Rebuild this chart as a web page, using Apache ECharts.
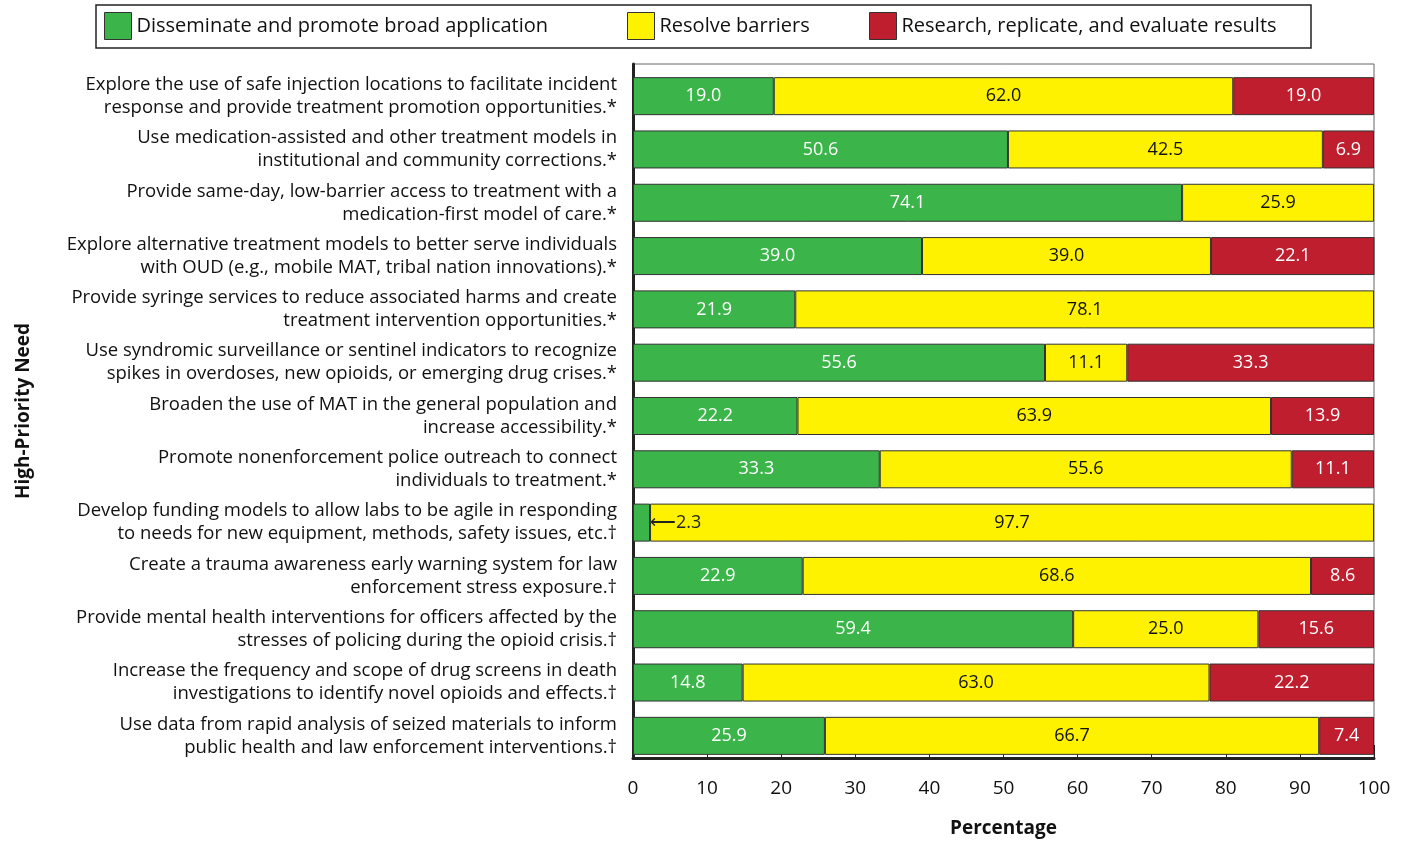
<!DOCTYPE html>
<html>
<head>
<meta charset="utf-8">
<script src="https://cdn.jsdelivr.net/npm/echarts@6/dist/echarts.min.js"></script>
<style>
  html, body { margin: 0; padding: 0; background: #fff; }
  #chart { width: 1406px; height: 843px; }
</style>
</head>
<body>
<div id="chart"></div>
<script>
var needs = [
  'Explore the use of safe injection locations to facilitate incident\nresponse and provide treatment promotion opportunities.*',
  'Use medication-assisted and other treatment models in\ninstitutional and community corrections.*',
  'Provide same-day, low-barrier access to treatment with a\nmedication-first model of care.*',
  'Explore alternative treatment models to better serve individuals\nwith OUD (e.g., mobile MAT, tribal nation innovations).*',
  'Provide syringe services to reduce associated harms and create\ntreatment intervention opportunities.*',
  'Use syndromic surveillance or sentinel indicators to recognize\nspikes in overdoses, new opioids, or emerging drug crises.*',
  'Broaden the use of MAT in the general population and\nincrease accessibility.*',
  'Promote nonenforcement police outreach to connect\nindividuals to treatment.*',
  'Develop funding models to allow labs to be agile in responding\nto needs for new equipment, methods, safety issues, etc.\u2020',
  'Create a trauma awareness early warning system for law\nenforcement stress exposure.\u2020',
  'Provide mental health interventions for officers affected by the\nstresses of policing during the opioid crisis.\u2020',
  'Increase the frequency and scope of drug screens in death\ninvestigations to identify novel opioids and effects.\u2020',
  'Use data from rapid analysis of seized materials to inform\npublic health and law enforcement interventions.\u2020'
];
var disseminate = [19.0, 50.6, 74.1, 39.0, 21.9, 55.6, 22.2, 33.3, 2.3, 22.9, 59.4, 14.8, 25.9];
var resolve = [62.0, 42.5, 25.9, 39.0, 78.1, 11.1, 63.9, 55.6, 97.7, 68.6, 25.0, 63.0, 66.7];
var research = [19.0, 6.9, 0, 22.1, 0, 33.3, 13.9, 11.1, 0, 8.6, 15.6, 22.2, 7.4];
var seriesNames = ['Disseminate and promote broad application', 'Resolve barriers', 'Research, replicate, and evaluate results'];
var seriesColors = ['#3bb54a', '#fff200', '#be1e2d'];
var xTicks = [0, 10, 20, 30, 40, 50, 60, 70, 80, 90, 100];

var font = '"Open Sans", "Noto Sans", sans-serif';

function toData(arr, smallIdx) {
  return arr.map(function (v, i) {
    if (v === 0) return null;
    if (i === smallIdx) {
      return {
        value: v,
        label: { position: 'right', color: '#222', distance: 0, formatter: '\u27f5' + v.toFixed(1) }
      };
    }
    return v;
  });
}

var chart = echarts.init(document.getElementById('chart'));
var barStyle = { borderColor: '#333', borderWidth: 1 };
var legendLefts = [104, 627, 869];

var legends = seriesNames.map(function (name, i) {
  return {
    top: 12,
    left: legendLefts[i],
    padding: 0,
    icon: 'rect',
    itemWidth: 27,
    itemHeight: 27,
    itemGap: 0,
    textStyle: { fontSize: 20, color: '#111', fontFamily: font, padding: [2, 0, 0, 0] },
    itemStyle: { borderColor: '#333', borderWidth: 1 },
    data: [name]
  };
});

var option = {
  textStyle: { fontFamily: font },
  legend: legends,
  graphic: [{
    type: 'rect',
    shape: { x: 96, y: 5, width: 1215, height: 43 },
    style: { fill: 'none', stroke: '#222', lineWidth: 1.5 }
  }],
  grid: [
    // bars
    { left: 633, right: 32, top: 69.5, bottom: 80.5 },
    // frame and scale
    { left: 633, right: 32, top: 64, bottom: 74, show: true, borderColor: '#666', borderWidth: 1 }
  ],
  xAxis: [
    { gridIndex: 0, type: 'value', min: 0, max: 100, show: false },
    {
      gridIndex: 1,
      type: 'value',
      min: 0,
      max: 100,
      interval: 10,
      name: 'Percentage',
      nameLocation: 'middle',
      nameGap: 61,
      nameTextStyle: { fontSize: 19, fontWeight: 'bold', color: '#111' },
      axisLine: { show: true, lineStyle: { color: '#222', width: 3 } },
      axisTick: { show: true, inside: true, length: 13, lineStyle: { color: '#222', width: 1 } },
      axisLabel: {
        fontSize: 19, color: '#111', margin: 21,
        formatter: function (v) { return xTicks.indexOf(v) >= 0 ? String(v) : ''; }
      },
      splitLine: { show: false }
    }
  ],
  yAxis: [
    {
      gridIndex: 0,
      type: 'category',
      inverse: true,
      data: needs,
      axisLine: { show: false },
      axisTick: { show: false },
      axisLabel: { fontSize: 18.5, color: '#111', lineHeight: 23, margin: 16, align: 'right', padding: [4, 0, 0, 0] }
    },
    {
      gridIndex: 1,
      type: 'value',
      min: 0,
      max: 1,
      name: 'High-Priority Need',
      nameLocation: 'middle',
      nameGap: 600,
      nameRotate: 90,
      nameTextStyle: { fontSize: 19, fontWeight: 'bold', color: '#111' },
      axisLine: { show: true, lineStyle: { color: '#222', width: 3 } },
      axisTick: { show: false },
      axisLabel: { show: false },
      splitLine: { show: false }
    }
  ],
  series: seriesNames.map(function (name, k) {
    var vals = [disseminate, resolve, research][k];
    return {
      name: name, type: 'bar', stack: 'total', barWidth: 38,
      xAxisIndex: 0, yAxisIndex: 0,
      itemStyle: Object.assign({ color: seriesColors[k] }, barStyle),
      label: {
        show: true, position: 'inside', color: k === 1 ? '#111' : '#fff', fontSize: 18,
        formatter: function (p) { return p.value.toFixed(1); }
      },
      data: toData(vals, k === 0 ? 8 : -1)
    };
  })
};
chart.setOption(option);
</script>
</body>
</html>
